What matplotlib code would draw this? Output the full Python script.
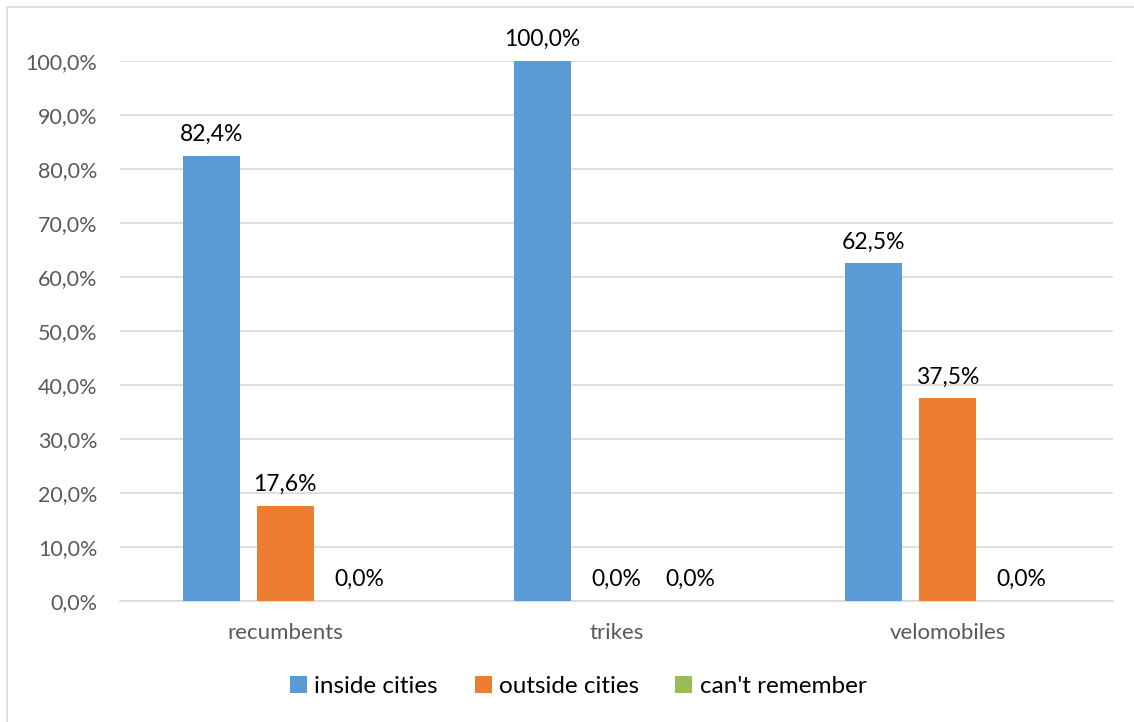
import numpy as np
import matplotlib.pyplot as plt
from matplotlib.patches import Rectangle

categories = ["recumbents", "trikes", "velomobiles"]
series_names = ["inside cities", "outside cities", "can't remember"]
inside = [0.824, 1.000, 0.625]
outside = [0.176, 0.000, 0.375]
cant_remember = [0.000, 0.000, 0.000]
colors = ["#5B9BD5", "#ED7D31", "#9BBB59"]

plt.rcParams["font.family"] = ["Lato", "DejaVu Sans"]

fig = plt.figure(figsize=(11.34, 7.22), dpi=100)
ax = fig.add_axes([0.1055, 0.1676, 0.876, 0.748])

# chart area border
fig.patches.append(Rectangle((7 / 1134, -0.05), 1.2, 1 - 7 / 722 + 0.05,
                             transform=fig.transFigure, fill=False,
                             edgecolor="#D9D9D9", linewidth=1.2))

x = np.arange(len(categories))
width = 0.172
step = 0.223
for i, (vals, name, col) in enumerate(zip([inside, outside, cant_remember], series_names, colors)):
    pos = x + (i - 1) * step
    ax.bar(pos, vals, width, color=col, label=name, zorder=3)
    for p, v in zip(pos, vals):
        ax.annotate(f"{v * 100:.1f}%".replace(".", ","), (p, v),
                    xytext=(0, 8), textcoords="offset points",
                    ha="center", va="bottom", fontsize=16.5, color="black",
                    annotation_clip=False)

ax.set_xlim(-0.5, 2.5)
ax.set_ylim(0, 1.0)
ticks = np.arange(0, 1.01, 0.1)
ax.set_yticks(ticks)
ax.set_yticklabels([f"{t * 100:.1f}%".replace(".", ",") for t in ticks])
ax.set_xticks(x)
ax.set_xticklabels(categories)
ax.tick_params(axis="y", length=0, labelsize=15.5, labelcolor="#595959", pad=16)
ax.tick_params(axis="x", length=0, labelsize=16, labelcolor="#595959", pad=16)
ax.grid(axis="y", color="#D9D9D9", linewidth=1.2, zorder=0)
for s in ["left", "right", "top"]:
    ax.spines[s].set_visible(False)
ax.spines["bottom"].set_color("#D9D9D9")
ax.spines["bottom"].set_linewidth(1.2)

fig.legend(loc="center", bbox_to_anchor=(0.51, 0.049), ncol=3, frameon=False,
           fontsize=17.5, handlelength=0.7, handleheight=0.7, handletextpad=0.3,
           columnspacing=1.5)

fig.savefig("out.png", dpi=100)
